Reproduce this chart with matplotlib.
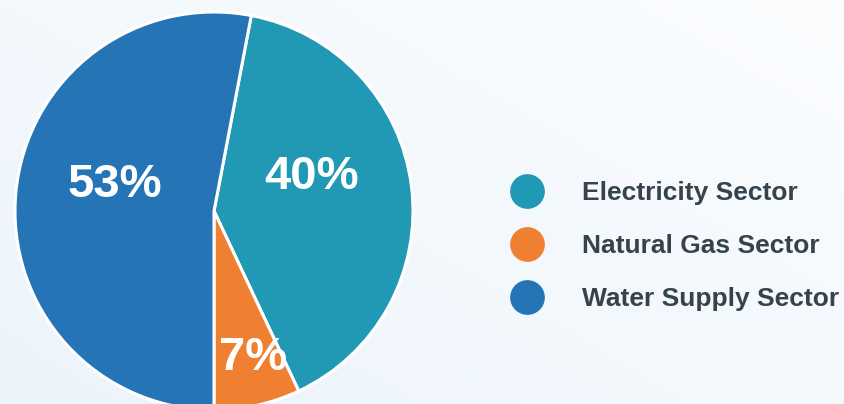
import numpy as np
import matplotlib.pyplot as plt
from matplotlib.lines import Line2D

sectors = ['Electricity Sector', 'Natural Gas Sector', 'Water Supply Sector']
shares = [40, 7, 53]
colors = ['#2198b4', '#ef7f31', '#2574b6']

plt.rcParams['font.family'] = ['Liberation Sans', 'DejaVu Sans']

fig = plt.figure(figsize=(8.45, 4.04), dpi=100)
ax = fig.add_axes([0, 0, 1, 1])

# soft bluish background
gx, gy = np.meshgrid(np.linspace(0, 1, 200), np.linspace(0, 1, 100))
t = np.clip(0.55 * gx + 0.45 * gy, 0, 1)
c0 = np.array([0.925, 0.957, 0.984])
c1 = np.array([0.985, 0.992, 0.998])
bg = c0 + (c1 - c0) * t[..., None]
ax.imshow(bg, extent=[0, 845, 0, 404], origin='lower', aspect='auto', zorder=0)

# water sector starts at the bottom, wedges run clockwise
start = -90 - shares[2] / 100 * 360
wedges, _ = ax.pie(shares, colors=colors, startangle=start, counterclock=False,
                   center=(214, 193), radius=199, frame=True,
                   wedgeprops=dict(edgecolor='white', linewidth=2.2))

label_pos = [(312, 227), (253, 46), (115, 219)]
for v, (x, y) in zip(shares, label_pos):
    ax.text(x, y, f'{v}%', ha='center', va='center', color='white',
            fontsize=34, fontweight='bold', zorder=5)

handles = [Line2D([], [], marker='o', linestyle='none', markersize=25,
                  markerfacecolor=c, markeredgecolor='none') for c in colors]
leg = ax.legend(handles, sectors, loc='center left', bbox_to_anchor=(0.564, 0.39),
                frameon=False, handletextpad=1.08, labelspacing=1.1,
                prop=dict(size=19, weight='bold'))
for txt in leg.get_texts():
    txt.set_color('#36434d')

ax.set_xlim(0, 845)
ax.set_ylim(0, 404)
ax.set_aspect('equal')
ax.axis('off')

fig.savefig('out.png', dpi=100)
